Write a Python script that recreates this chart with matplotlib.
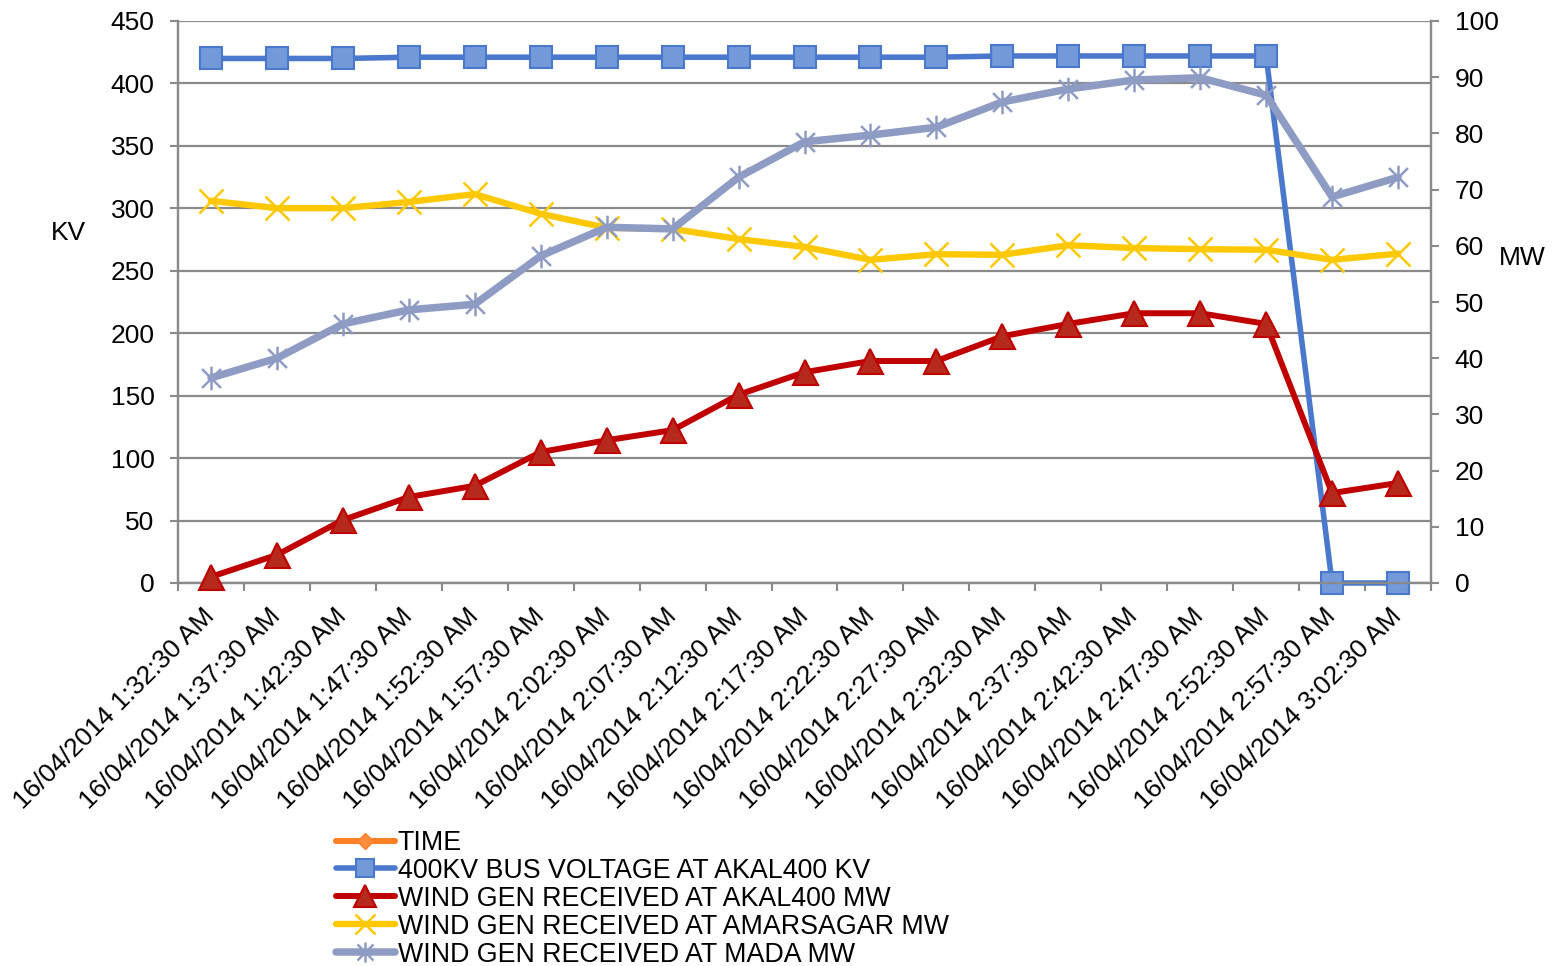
import matplotlib
matplotlib.use("Agg")
import matplotlib.pyplot as plt
from matplotlib.path import Path
from matplotlib.lines import Line2D

plt.rcParams['font.family'] = ['Liberation Sans', 'DejaVu Sans']

times = ["16/04/2014 1:32:30 AM", "16/04/2014 1:37:30 AM", "16/04/2014 1:42:30 AM",
         "16/04/2014 1:47:30 AM", "16/04/2014 1:52:30 AM", "16/04/2014 1:57:30 AM",
         "16/04/2014 2:02:30 AM", "16/04/2014 2:07:30 AM", "16/04/2014 2:12:30 AM",
         "16/04/2014 2:17:30 AM", "16/04/2014 2:22:30 AM", "16/04/2014 2:27:30 AM",
         "16/04/2014 2:32:30 AM", "16/04/2014 2:37:30 AM", "16/04/2014 2:42:30 AM",
         "16/04/2014 2:47:30 AM", "16/04/2014 2:52:30 AM", "16/04/2014 2:57:30 AM",
         "16/04/2014 3:02:30 AM"]

bus_kv = [420, 420, 420, 421, 421, 421, 421, 421, 421, 421, 421, 421,
          422, 422, 422, 422, 422, 0, 0]
akal_mw = [1.1, 5.0, 11.2, 15.3, 17.3, 23.3, 25.4, 27.2, 33.5, 37.5, 39.5, 39.5,
           43.9, 46.1, 48.0, 48.0, 46.1, 16.0, 17.8]
amarsagar_mw = [68.0, 66.7, 66.7, 67.8, 69.2, 65.7, 63.2, 63.0, 61.2, 59.8, 57.5, 58.5,
                58.4, 60.1, 59.6, 59.4, 59.3, 57.5, 58.6]
mada_mw = [36.5, 40.0, 46.1, 48.6, 49.6, 58.2, 63.3, 63.0, 72.2, 78.5, 79.7, 81.1,
           85.6, 87.9, 89.5, 89.9, 86.8, 68.7, 72.2]

labels = ["TIME", "400KV BUS VOLTAGE AT AKAL400 KV", "WIND GEN RECEIVED AT AKAL400 MW",
          "WIND GEN RECEIVED AT AMARSAGAR MW", "WIND GEN RECEIVED AT MADA MW"]

# asterisk marker: vertical stroke plus two diagonals
star = Path([(0, -1), (0, 1), (-0.8, -0.8), (0.8, 0.8), (-0.8, 0.8), (0.8, -0.8)],
            [Path.MOVETO, Path.LINETO, Path.MOVETO, Path.LINETO, Path.MOVETO, Path.LINETO])

GRID = '#8a8a8a'
FS = 19

fig = plt.figure(figsize=(15.58, 9.66), dpi=100)
ax = fig.add_axes([178 / 1558, 1 - 583 / 966, (1431 - 178) / 1558, (583 - 21) / 966])
ax2 = ax.twinx()

x = list(range(len(times)))

time_line = Line2D([], [], color='#FF7F27', lw=4.4, marker='D', ms=10,
                   markerfacecolor='#FF8C3A', markeredgecolor='#FF7F27',
                   solid_capstyle='round')
blue, = ax.plot(x, bus_kv, color='#4A78CC', lw=4.0, marker='s', ms=16,
                markerfacecolor='#7399D8', markeredgecolor='#4A78CC', mew=1.5,
                zorder=3, clip_on=False, solid_capstyle='round')
red, = ax2.plot(x, akal_mw, color='#C00000', lw=4.3, marker='^', ms=18,
                markerfacecolor='#B52A1C', markeredgecolor='#C00000', mew=1.5,
                zorder=3, clip_on=False, solid_capstyle='round')
yel, = ax2.plot(x, amarsagar_mw, color='#FFC800', lw=4.6, marker='x', ms=17,
                mew=1.8, markeredgecolor='#FFC800', zorder=4, clip_on=False,
                solid_capstyle='round')
gray, = ax2.plot(x, mada_mw, color='#8E9CC4', lw=5.4, marker=star, ms=17,
                 mew=1.8, markeredgecolor='#8E9CC4', markerfacecolor='none', zorder=5,
                 clip_on=False, solid_capstyle='round')

ax.set_xlim(-0.5, len(times) - 0.5)
ax.set_ylim(0, 450)
ax.set_yticks(range(0, 451, 50))
ax2.set_ylim(0, 100)
ax2.set_yticks(range(0, 101, 10))

ax.set_xticks(x)
ax.set_xticklabels(times, rotation=45, ha='right', va='center', rotation_mode='anchor',
                   fontsize=FS)
ax.set_xticks([i - 0.5 for i in range(len(times) + 1)], minor=True)
ax.tick_params(axis='x', which='major', length=0, pad=21)
ax.tick_params(axis='x', which='minor', length=6, width=1.5, color=GRID)
ax.tick_params(axis='y', length=6, width=1.5, color=GRID, labelsize=FS, pad=11)
ax2.tick_params(axis='y', length=6, width=1.5, color=GRID, labelsize=FS, pad=11)

ax.grid(axis='y', color=GRID, lw=1.6)
ax.set_axisbelow(True)
for a in (ax, ax2):
    a.spines['top'].set_visible(False)
    for s in ('left', 'right', 'bottom'):
        a.spines[s].set_color(GRID)
        a.spines[s].set_linewidth(1.6)

fig.text(68 / 1558, 1 - 233 / 966, "KV", fontsize=FS, ha='center', va='center')
fig.text(1522 / 1558, 1 - 258 / 966, "MW", fontsize=FS, ha='center', va='center')

fig.legend([time_line, blue, red, yel, gray], labels, loc='upper left',
           bbox_to_anchor=(336 / 1558, 1 - 830 / 966), frameon=False, fontsize=19.3,
           handlelength=2.2, handletextpad=0.1, labelspacing=0.07, borderpad=0,
           borderaxespad=0, markerscale=0.85)

fig.savefig("out.png", dpi=100)
